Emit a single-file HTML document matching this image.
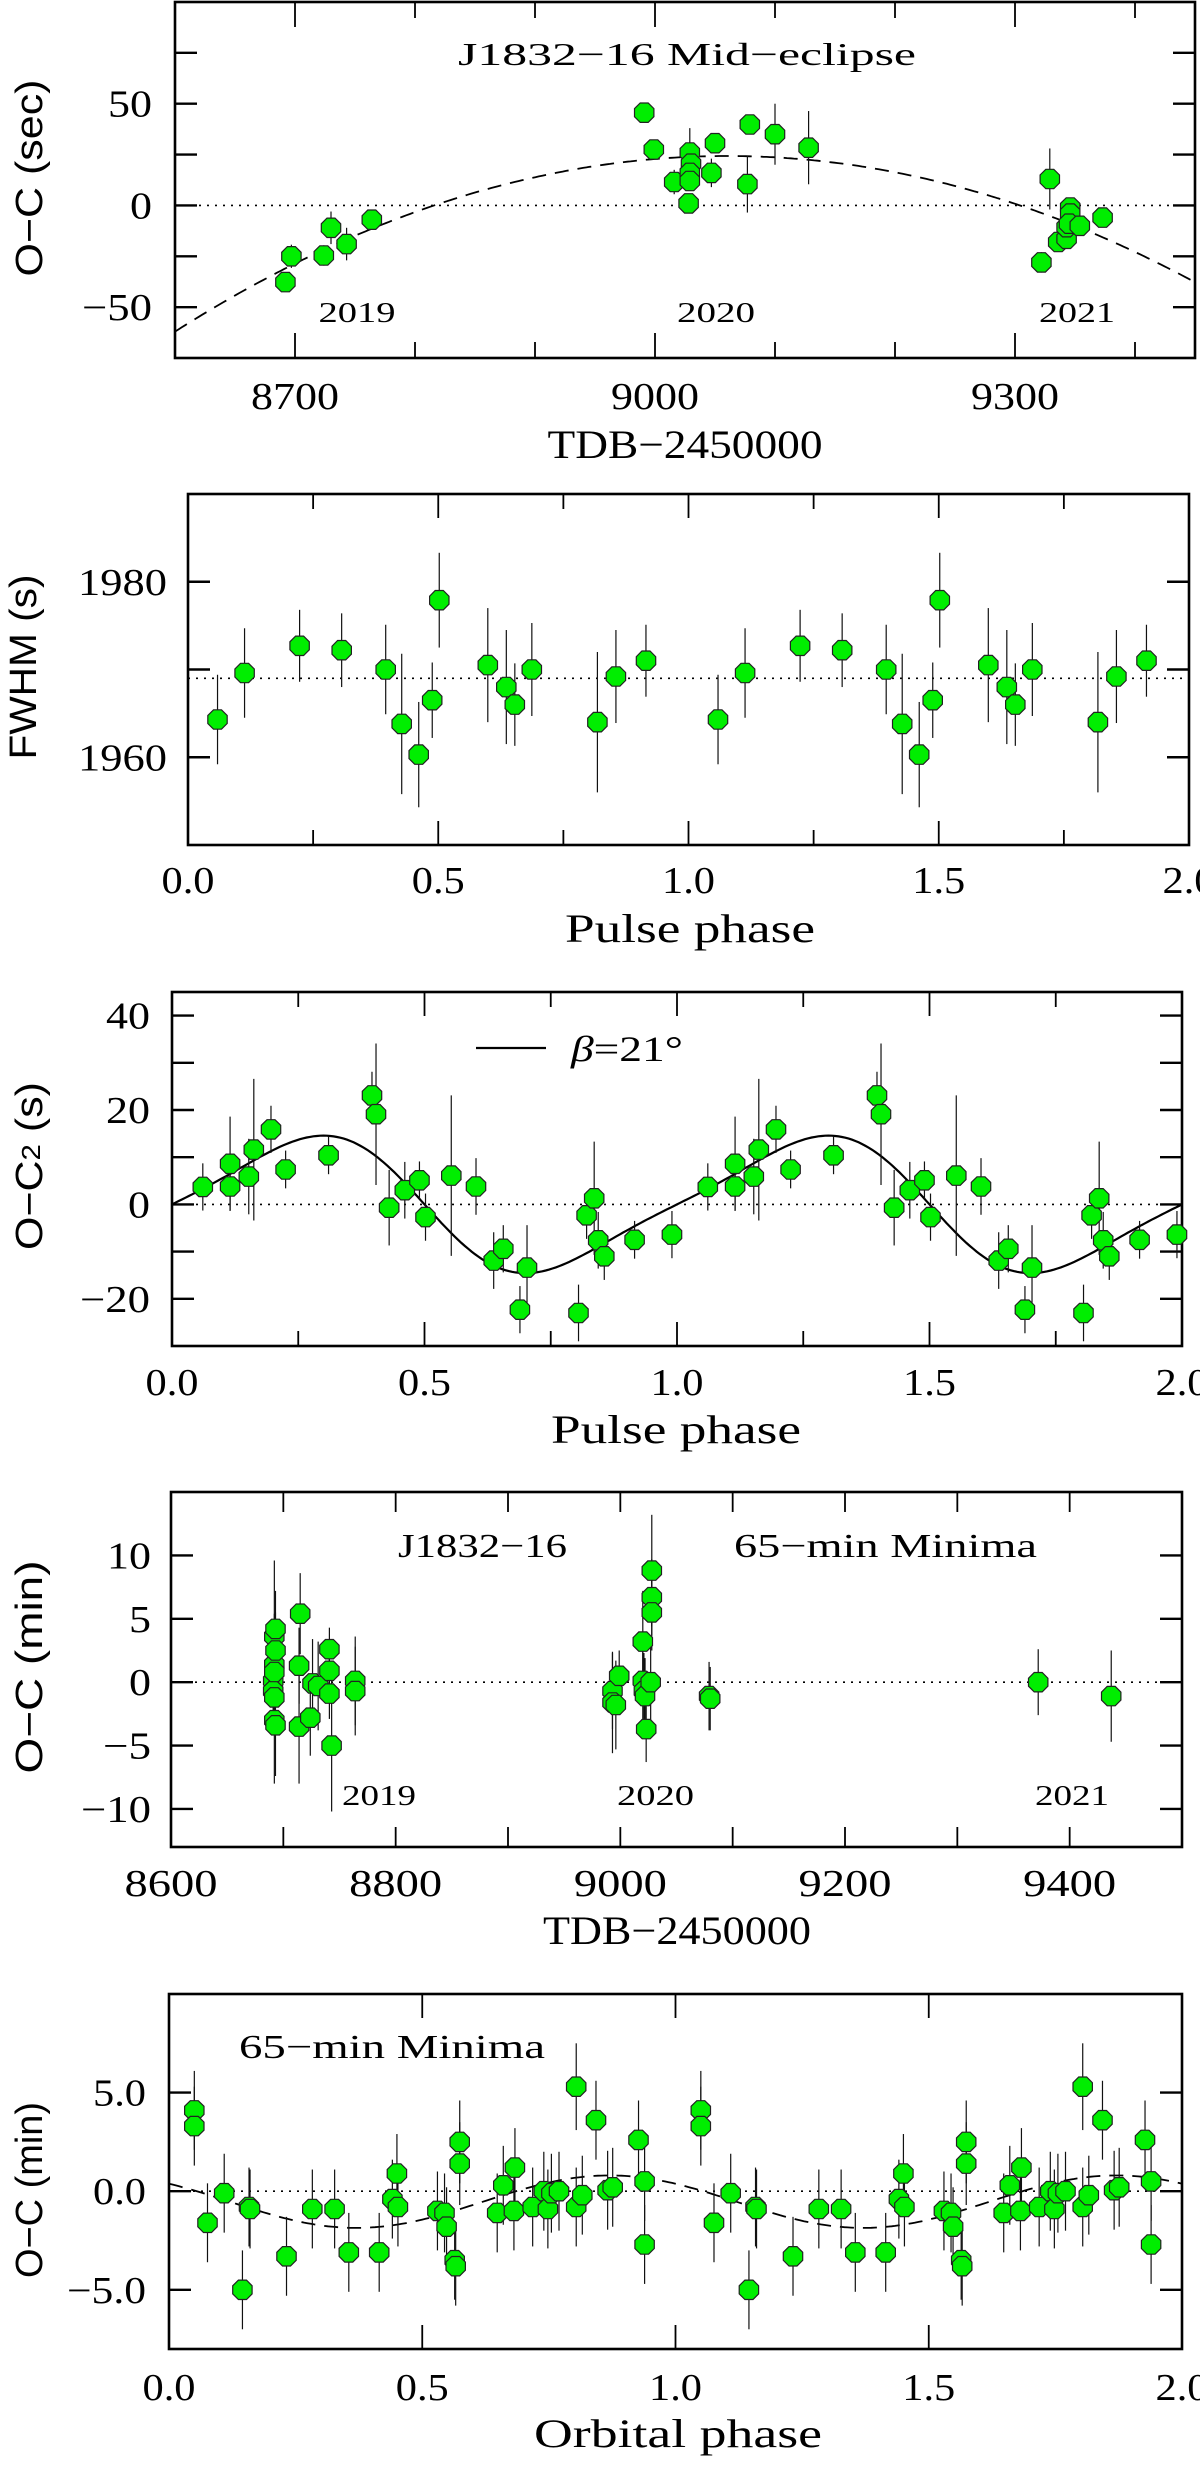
<!DOCTYPE html>
<html><head><meta charset="utf-8"><style>
html,body{margin:0;padding:0;background:#fff;}
svg{display:block;}
text{font-family:"Liberation Serif",serif;fill:#000;}
.ax{font-family:"Liberation Sans",sans-serif;}
</style></head><body>
<svg id="fig" width="1200" height="2478" viewBox="0 0 1200 2478" xmlns="http://www.w3.org/2000/svg"></svg>
<script>
// ---- Panel 1: mid-eclipse O-C (sec) ----
const p1Days = [8692,8697,8724,8730,8743,8764,8991,8999,9016,9029,9030,9029,9029,9028,9047,9050,9077,9079,9100,9128,9322,9329,9336,9343,9343,9346,9346,9345,9354,9373];
const p1OC = [-37.7,-25,-24.6,-11,-19,-7,45.6,27.5,11.5,26,20.5,16,12,1,16,30.6,10.5,39.8,35,28.4,-28,13,-18,-16.4,-10.7,-1,-4,-9,-10,-6];
const p1Err = [2,5.7,5,8,8,3,2,3,6,12,4,4,4,2,7,4,14,4,15,18,5,15,4,4,4,3,3,4,4,3];
const p1FitPeak = [9060, 24.3, 4.08e-4];
const p1XTicks = [8700,9000,9300];
const p1YTicks = [50,0,-50];
// ---- Panel 2: FWHM vs pulse phase ----
const p2Phase = [0.059,0.113,0.223,0.307,0.395,0.427,0.461,0.488,0.502,0.599,0.636,0.653,0.687,0.818,0.855,0.915];
const p2FWHM = [1964.3,1969.6,1972.7,1972.2,1970,1963.8,1960.3,1966.5,1977.9,1970.5,1968,1966,1970,1964,1969.2,1971];
const p2Err = [5.1,5.1,4.1,4.2,5.1,8,6,4.3,5.4,6.5,6.5,4.7,5.3,8,5.3,4.1];
const p2Mean = 1969;
const phaseTicks = ["0.0","0.5","1.0","1.5","2.0"];
const p2YTicks = [1980,1960];
// ---- Panel 3: O-C2 vs pulse phase ----
const p3Phase = [0.061,0.115,0.115,0.152,0.162,0.196,0.225,0.31,0.396,0.404,0.43,0.461,0.49,0.502,0.553,0.602,0.637,0.656,0.689,0.703,0.805,0.821,0.836,0.844,0.856,0.916,0.99];
const p3OC = [3.7,8.6,3.8,5.9,11.6,15.9,7.4,10.4,23.1,19.1,-0.7,3,5.1,-2.7,6.1,3.8,-11.9,-9.4,-22.3,-13.4,-23,-2.3,1.3,-7.6,-11,-7.5,-6.4];
const p3Err = [5,10,5,8,15,5,4,4,5,15,8,6,4,5,17,6,6,5,5,9,6,5,12,6,5,4,5];
const p3Model = [13.7, 0.191];
const p3YTicks = [40,20,0,-20];
// ---- Panel 4: 65-min minima O-C vs time ----
const p4Days = [8692,8691,8691,8692,8692,8692,8693,8693,8692,8693,8715,8714,8714,8724,8726,8731,8741,8741,8741,8743,8764,8764,8993,8993,8996,8999,9020,9020,9021,9023,9022,9028,9028,9028,9027,9079,9080,9372,9437];
const p4OC = [1.4,0.1,-0.7,-1.2,0.8,3.6,4.2,2.5,-3,-3.4,5.4,1.3,-3.5,-2.8,-0.1,-0.3,2.6,0.9,-0.9,-5,0.1,-0.7,-0.7,-1.6,-1.8,0.5,3.2,0.1,-0.7,-3.7,-1.1,8.8,6.7,5.5,0,-1.1,-1.3,0,-1.1];
const p4Err = [4,3,3,3,3,6,3,3,5,4,3.2,3,4.5,3,3.5,3.5,1.7,2,2,5.2,3.5,3.5,3,4,3.5,2,4,3,3,2.6,3,4.4,3,3,3,2.7,2.5,2.6,3.6];
const p4XTicks = [8600,8800,9000,9200,9400];
const p4YTicks = [10,5,0,-5,-10];
// ---- Panel 5: 65-min minima vs orbital phase ----
const p5Phase = [0.05,0.05,0.076,0.109,0.145,0.158,0.16,0.232,0.283,0.327,0.355,0.415,0.441,0.45,0.452,0.53,0.544,0.548,0.564,0.566,0.574,0.574,0.648,0.66,0.683,0.681,0.718,0.74,0.748,0.755,0.77,0.804,0.804,0.816,0.843,0.866,0.876,0.927,0.939,0.939];
const p5OC = [4.1,3.3,-1.6,-0.1,-5,-0.8,-0.9,-3.3,-0.9,-0.9,-3.1,-3.1,-0.4,0.9,-0.8,-1,-1.1,-1.8,-3.5,-3.8,2.5,1.4,-1.1,0.3,1.2,-1,-0.8,0,-0.9,-0.1,0,5.3,-0.8,-0.2,3.6,0.05,0.2,2.6,0.5,-2.7];
const p5Err = [2,2,2,2,2,2,2,2,2,2,2,2,2,2,2,2,2,2,2,2,2.1,2.1,2,2,2,2,2,2,2,2,2,2.2,2,2,2,2,2,2,2,2];
const p5Fit = [-0.53, 1.33, 0.37];
const p5YTicks = ["5.0","0.0","-5.0"];

const NS = "http://www.w3.org/2000/svg";
const svg = document.getElementById('fig');
function mk(tag, attrs, parent){
  const e = document.createElementNS(NS, tag);
  for (const k in attrs) e.setAttribute(k, attrs[k]);
  (parent||svg).appendChild(e);
  return e;
}
function txt(s, x, y, size, anchor, len, parent, cls){
  const t = mk('text', {x:x, y:y, 'font-size':size, 'text-anchor':anchor||'middle'}, parent);
  if (len){ t.setAttribute('textLength', len); t.setAttribute('lengthAdjust','spacingAndGlyphs'); }
  if (cls) t.setAttribute('class', cls);
  t.textContent = s;
  return t;
}
function tlen(s){ let w=0; for (const c of s){ w += (c==='.')?9:(c==='−'||c==='-')?26:22; } return w; }
function lab(v){ return String(v).replace('-','−'); }

function makePanel(name, box, xd, yd){
  const g = mk('g', {});
  
  
  const [x0,x1,y0,y1] = box;
  const sx = v => x0 + (v - xd[0]) / (xd[1]-xd[0]) * (x1-x0);
  const sy = v => y1 - (v - yd[0]) / (yd[1]-yd[0]) * (y1-y0);
  return {g, sx, sy, box};
}
function frame(P, xt, yt){
  const [x0,x1,y0,y1] = P.box;
  const f = mk('rect', {x:x0, y:y0, width:x1-x0, height:y1-y0, fill:'none', stroke:'#000', 'stroke-width':2.6}, P.g);
  
  
  for (const [v,len] of xt){
    const x = P.sx(v);
    mk('line', {x1:x, x2:x, y1:y0, y2:y0+len, stroke:'#000','stroke-width':1.8}, P.g);
    mk('line', {x1:x, x2:x, y1:y1, y2:y1-len, stroke:'#000','stroke-width':1.8}, P.g);
  }
  for (const [v,len] of yt){
    const y = P.sy(v);
    mk('line', {x1:x0, x2:x0+len, y1:y, y2:y, stroke:'#000','stroke-width':2.4}, P.g);
    mk('line', {x1:x1, x2:x1-len, y1:y, y2:y, stroke:'#000','stroke-width':2.4}, P.g);
  }
}
function hline(P, y){
  const l = mk('line', {x1:P.box[0], x2:P.box[1], y1:P.sy(y), y2:P.sy(y), stroke:'#000','stroke-width':1.6,'stroke-dasharray':'2,6'}, P.g);
  
  
}
function curve(P, fn, xa, xb, dash, name){
  let d = '';
  const n = 300;
  for (let i=0;i<=n;i++){
    const xv = xa + (xb-xa)*i/n;
    d += (i?'L':'M') + P.sx(xv).toFixed(1) + ' ' + P.sy(fn(xv)).toFixed(1);
  }
  const p = mk('path', {d:d, fill:'none', stroke:'#000','stroke-width':dash?1.8:2.2}, P.g);
  if (dash) p.setAttribute('stroke-dasharray', dash);
  
  
}
function octagon(cx, cy, r){
  let pts = [];
  for (let k=0;k<8;k++){ const a = Math.PI/8 + k*Math.PI/4; pts.push((cx+r*Math.cos(a)).toFixed(1)+','+(cy+r*Math.sin(a)).toFixed(1)); }
  return pts.join(' ');
}
function points(P, xs, ys, es, off, clipX){
  const layer = mk('g', {}, P.g);
  
  
  for (let i=0;i<xs.length;i++){
    const x = P.sx(xs[i] + off);
    const b = mk('line', {x1:x, x2:x, y1:P.sy(ys[i]+es[i]), y2:P.sy(ys[i]-es[i]), stroke:'#111','stroke-width':1.2}, layer);
    
    
  }
  for (let i=0;i<xs.length;i++){
    const x = P.sx(xs[i] + off);
    const m = mk('polygon', {points:octagon(x, P.sy(ys[i]), 10.5), fill:'#00ee00', stroke:'#222','stroke-width':1.2}, layer);
    
    
  }
}
function ylabel(s, x, cy, len, size){
  const t = txt(s, 0, 0, size||38, 'middle', len, svg, 'ax');
  t.setAttribute('transform', 'translate('+x+','+cy+') rotate(-90)');
  
  
  return t;
}
function named(t, n){   return t; }

// ===== Panel 1 =====
{
  const P = makePanel('panel-mid-eclipse', [175,1195,2,358], [8600,9450], [-75,100]);
  frame(P, [[8700,25],[9000,25],[9300,25],[8800,16],[8900,16],[9100,16],[9200,16],[9400,16]],
           [[-50,22],[-25,22],[0,22],[25,22],[50,22],[75,22]]);
  hline(P, 0);
  curve(P, t => p1FitPeak[1] - p1FitPeak[2]*(t-p1FitPeak[0])*(t-p1FitPeak[0]), 8600, 9450, '14,9', 'parabolic-fit');
  points(P, p1Days, p1OC, p1Err, 0);
  for (const v of p1XTicks) named(txt(lab(v), P.sx(v), 409, 38, 'middle', tlen(lab(v))), 'x-tick-label');
  for (const v of p1YTicks) named(txt(lab(v), 152, P.sy(v)+13, 38, 'end', tlen(lab(v))), 'y-tick-label');
  named(txt('J1832−16 Mid−eclipse', 687, 65, 32, 'middle', 458), 'panel-title');
  named(txt('2019', 357, 322, 28, 'middle', 77), 'year-label-2019');
  named(txt('2020', 716, 322, 28, 'middle', 78), 'year-label-2020');
  named(txt('2021', 1077, 322, 28, 'middle', 76), 'year-label-2021');
  named(txt('TDB−2450000', 685, 458, 40, 'middle', 275), 'x-axis-title');
  ylabel('O−C  (sec)', 42, 178, 197);
}
// ===== Panel 2 =====
{
  const P = makePanel('panel-fwhm', [188,1189,494,845], [0,2], [1950,1990]);
  frame(P, [[0.5,24],[1,24],[1.5,24],[0.25,15],[0.75,15],[1.25,15],[1.75,15]], [[1960,22],[1970,22],[1980,22]]);
  hline(P, p2Mean);
  for (const c of [0,1]) points(P, p2Phase, p2FWHM, p2Err, c);
  for (const s of phaseTicks) named(txt(s, P.sx(parseFloat(s)), 893, 38, 'middle', 53), 'x-tick-label');
  for (const v of p2YTicks) named(txt(String(v), 167, P.sy(v)+13, 38, 'end', 89), 'y-tick-label');
  named(txt('Pulse phase', 690, 942, 40, 'middle', 250), 'x-axis-title');
  ylabel('FWHM  (s)', 36, 667, 185);
}
// ===== Panel 3 =====
{
  const P = makePanel('panel-oc2', [172,1182,992,1346], [0,2], [-30,45]);
  frame(P, [[0.5,24],[1,24],[1.5,24],[0.25,15],[0.75,15],[1.25,15],[1.75,15]],
           [[-20,22],[-10,22],[0,22],[10,22],[20,22],[30,22],[40,22]]);
  hline(P, 0);
  curve(P, f => p3Model[0]*(Math.sin(2*Math.PI*f) - p3Model[1]*Math.sin(4*Math.PI*f)), 0, 2, null, 'model-curve');
  for (const c of [0,1]) points(P, p3Phase, p3OC, p3Err, c);
  for (const s of phaseTicks) named(txt(s, P.sx(parseFloat(s)), 1395, 38, 'middle', 53), 'x-tick-label');
  for (const v of p3YTicks) named(txt(lab(v), 150, P.sy(v)+13, 38, 'end', tlen(lab(v))), 'y-tick-label');
  const ll = mk('line', {x1:476, x2:546, y1:1048, y2:1048, stroke:'#000','stroke-width':2.2}, P.g);
  
  
  const lt = txt('', 571, 1061, 36, 'start', 112);
  lt.innerHTML = '<tspan font-style="italic">β</tspan>=21°';
  named(lt, 'legend-entry');
  named(txt('Pulse phase', 676, 1443, 40, 'middle', 250), 'x-axis-title');
  const yl = ylabel('', 42, 1166, 168);
  yl.innerHTML = 'O−C<tspan font-size="26" dy="-2">2</tspan><tspan dy="2">  (s)</tspan>';
}
// ===== Panel 4 =====
{
  const P = makePanel('panel-minima-time', [171,1182,1492,1847], [8600,9500], [-13,15]);
  frame(P, [[8700,20],[8800,20],[8900,20],[9000,20],[9100,20],[9200,20],[9300,20],[9400,20]],
           [[-10,22],[-5,22],[0,22],[5,22],[10,22]]);
  hline(P, 0);
  points(P, p4Days, p4OC, p4Err, 0);
  for (const v of p4XTicks) named(txt(String(v), P.sx(v), 1896, 38, 'middle', 93), 'x-tick-label');
  for (const v of p4YTicks) named(txt(lab(v), 151, P.sy(v)+13, 38, 'end', tlen(lab(v))), 'y-tick-label');
  named(txt('J1832−16', 398, 1557, 34, 'start', 169), 'panel-title');
  named(txt('65−min  Minima', 734, 1557, 34, 'start', 303), 'panel-subtitle');
  named(txt('2019', 342, 1805, 28, 'start', 74), 'year-label-2019');
  named(txt('2020', 617, 1805, 28, 'start', 77), 'year-label-2020');
  named(txt('2021', 1035, 1805, 28, 'start', 74), 'year-label-2021');
  named(txt('TDB−2450000', 677, 1944, 40, 'middle', 268), 'x-axis-title');
  ylabel('O−C  (min)', 42, 1667, 213);
}
// ===== Panel 5 =====
{
  const P = makePanel('panel-minima-orbital', [169,1182,1994,2349], [0,2], [-8,10]);
  frame(P, [[0.5,24],[1,24],[1.5,24]], [[-5,22],[0,22],[5,22]]);
  hline(P, 0);
  curve(P, f => p5Fit[0] - p5Fit[1]*Math.cos(2*Math.PI*(f - p5Fit[2])), 0, 2, '14,9', 'sinusoid-fit');
  for (const c of [0,1]) points(P, p5Phase, p5OC, p5Err, c);
  for (const s of phaseTicks) named(txt(s, P.sx(parseFloat(s)), 2400, 38, 'middle', 53), 'x-tick-label');
  for (const s of p5YTicks) named(txt(lab(s), 146, P.sy(parseFloat(s))+13, 38, 'end', tlen(lab(s))), 'y-tick-label');
  named(txt('65−min  Minima', 239, 2058, 34, 'start', 306), 'panel-title');
  named(txt('Orbital phase', 678, 2447, 40, 'middle', 288), 'x-axis-title');
  ylabel('O−C  (min)', 42, 2190, 176);
}
</script>
</body></html>
